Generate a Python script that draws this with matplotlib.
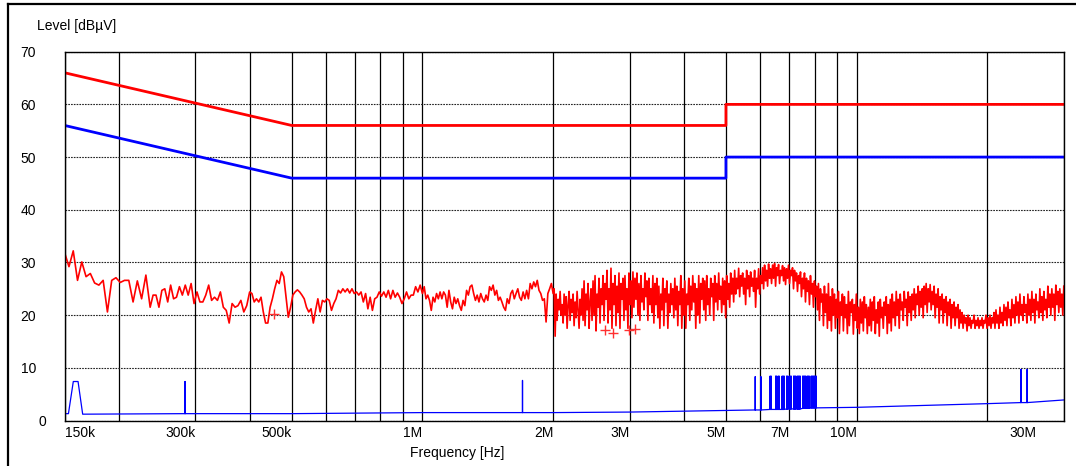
import numpy as np
import matplotlib.pyplot as plt
from matplotlib.lines import Line2D
from matplotlib.transforms import ScaledTranslation

plt.rcParams['font.family'] = ['Liberation Sans', 'DejaVu Sans']
plt.rcParams['font.size'] = 10

# limit lines (MHz, dBuV)
qp_limit_freq = [0.15, 0.5, 5.0, 5.0, 30.0]
qp_limit_level = [66, 56, 56, 60, 60]
av_limit_freq = [0.15, 0.5, 5.0, 5.0, 30.0]
av_limit_level = [56, 46, 46, 50, 50]

# peak trace, split into sweep segments (start MHz, stop MHz)
peak_bands = [(0.15, 0.236), (0.236, 0.40), (0.40, 1.0), (1.0, 2.0), (2.0, 30.0)]
peak_seg1 = [31.8, 29.2, 32.2, 26.6, 30.1, 27.3, 27.9, 26.1, 25.7, 26.6, 20.6,
             26.6, 27.1, 26.2, 26.6, 26.6, 22.5, 26.5, 23.1, 27.6, 21.5]
peak_seg2 = [23.8, 23.8, 21.5, 24.7, 25.0, 22.5, 25.7, 23.1, 23.4, 25.4, 23.8,
             25.7, 23.8, 26.0, 22.2, 24.4, 22.5, 22.5, 23.8, 25.7, 22.8, 23.4,
             22.8, 24.4, 21.5, 20.9, 18.5, 22.2, 21.5, 21.8, 22.8, 20.6, 21.8, 24.4]
peak_seg3 = [24.1, 22.5, 23.1, 22.5, 23.4, 20.6, 18.5, 18.5, 21.5, 23.1, 25.0,
             26.6, 26.0, 28.2, 27.3, 23.4, 19.6, 21.5, 23.8, 24.4, 24.8, 24.4,
             23.8, 23.1, 21.5, 20.6, 21.2, 18.5, 20.9, 23.1, 20.6, 22.8, 22.5,
             23.1, 22.8, 20.9, 22.2, 23.1, 24.7, 24.2, 25.0, 24.4, 25.0, 24.2,
             25.0, 24.1, 24.4, 23.8, 24.4, 22.5, 24.1, 21.2, 23.4, 20.9, 23.1,
             23.4, 24.4, 23.6, 24.4, 23.4, 24.7, 23.1, 24.7, 23.4, 24.2, 23.4,
             22.2, 23.1, 24.4, 23.1, 23.8, 23.8, 25.4, 24.4, 25.7, 24.1]
peak_seg4 = [25.4, 23.1, 23.8, 22.8, 20.9, 23.4, 22.5, 24.1, 23.1, 24.4, 23.1,
             24.4, 23.8, 21.5, 24.7, 22.5, 21.2, 23.4, 22.2, 23.1, 21.8, 20.9,
             22.8, 21.8, 24.7, 23.8, 25.4, 25.7, 24.1, 22.8, 23.8, 22.5, 24.1,
             23.1, 22.5, 23.8, 22.8, 25.4, 24.7, 25.7, 23.8, 24.7, 22.8, 23.4,
             22.5, 21.5, 20.9, 23.1, 22.2, 24.1, 24.7, 23.1, 24.1, 25.0, 23.4,
             22.8, 24.4, 23.1, 24.7, 23.1, 26.0, 25.0, 26.3, 25.4, 26.6, 24.7,
             24.1, 22.8, 23.1, 18.7, 24.1, 25.0, 26.0, 24.1]
peak_seg5 = [
    25, 16, 24, 19, 23, 21, 24.5, 20, 22, 18.5,
    24, 20, 23.5, 17.5, 22, 24.5, 19, 23, 20.5, 24,
    18, 22.5, 19.5, 24.5, 21, 17.5, 23, 20, 25, 19,
    26.5, 18, 24, 21, 26, 17.5, 22.5, 25, 19, 26.5,
    20, 27.5, 17, 24, 21.5, 27, 18.5, 25, 22, 27.5,
    19, 26, 23, 28.5, 18.5, 25, 21, 28.9, 17.5, 26,
    22, 27.5, 18, 25.5, 20.5, 28, 17.5, 26, 23, 27,
    19, 27.5, 21, 25, 17.5, 28, 22, 26.5, 19.5, 28.2,
    21.5, 27, 23, 28, 20, 26, 19, 27.5, 22.5, 25,
    21, 28, 23.5, 26.5, 19, 27, 22, 25, 20.5, 27.5,
    18.5, 26, 22, 27, 19.5, 25.5, 17.5, 24, 21, 27,
    18, 25, 22.5, 26.5, 17.5, 24, 20.5, 26, 22, 25,
    19.5, 27, 21, 25.5, 18, 24.5, 22, 27.5, 17.5, 25,
    20, 26.5, 17.5, 24, 22, 27, 19, 25.5, 21, 27.5,
    22.5, 26, 17.5, 25, 20, 27.5, 18.5, 26, 23, 27,
    21, 26.5, 19, 27.5, 22, 25, 20, 27, 23.5, 26,
    19, 27.5, 22.5, 26, 21, 28, 23, 25.5, 20.5, 27,
    22, 26.5, 19.5, 27.5, 23, 26, 21.5, 28, 24, 27,
    22.5, 28.5, 24, 27, 25, 28.9, 23.5, 27.5, 25.5, 28,
    24, 27, 22, 28.5, 25, 27.5, 23.5, 28.2, 25.5, 27,
    24.5, 28.5, 21.5, 27, 25, 28.8, 24, 27.5, 26, 29,
    25, 29.5, 26.5, 28.5, 25.5, 29.7, 27, 28.8, 26, 29.5,
    27, 29.8, 25.5, 29, 27.5, 29.6, 26, 28.5, 27.5, 29.4,
    26.5, 29, 25.8, 28.8, 27, 29.5, 26, 28.5, 27.5, 29,
    25, 28.5, 26.5, 28, 24.5, 27.5, 26, 28.2, 23.5, 27,
    25, 28, 22.5, 27, 24.5, 26.5, 22, 27.5, 24, 26,
    21.5, 26.5, 23.5, 25.5, 21, 26, 19, 25, 22.5, 24,
    18, 25.5, 20.5, 24, 17.5, 26, 19, 23.5, 17, 25,
    20, 24, 17.5, 23, 19.5, 24.5, 16.5, 22.5, 20, 24,
    17, 23.5, 19.5, 22, 16.5, 24.5, 18, 22.5, 20.5, 23,
    16.4, 22, 19, 24, 17.5, 21.5, 16.5, 23, 18.5, 22.5,
    17, 23.5, 19.5, 22, 16.5, 21.5, 18, 23, 17, 22.5,
    19, 23.5, 16.5, 21, 18.5, 22.5, 16, 23, 19.5, 21.5,
    17.5, 22.5, 20, 23.5, 16.5, 22, 18.5, 23, 17, 24,
    19.5, 22.5, 18, 24.5, 20, 23, 17.5, 24, 21, 22.5,
    19, 24.5, 21.5, 23, 18, 24.4, 20.5, 23.5, 19, 24,
    21, 25, 19.5, 24, 22, 25.5, 20, 24.5, 21.5, 25,
    19.5, 25.5, 22, 26, 20.5, 25, 22.5, 25.8, 21, 24.5,
    22, 25.5, 19.5, 24, 21.5, 25, 18.5, 23.5, 21, 24,
    18.5, 23, 20.5, 23.5, 18, 22.5, 20, 23, 17.5, 22,
    19.5, 22.5, 18, 21.5, 19.5, 22, 17.5, 21, 18.5, 20.5,
    17.5, 20, 18.5, 19.5, 17, 20, 18, 19.5, 17.5, 19,
    18.5, 20, 17.5, 19, 18, 19.5, 17.5, 19, 18, 19.5,
    17.5, 19, 18.5, 20, 17.5, 19.5, 18, 20, 17.5, 19.5,
    18.5, 20.5, 17.5, 21, 18.5, 20, 17.5, 21.5, 18.5, 20.5,
    18, 22, 19, 21.5, 18, 22.5, 19.5, 21, 18, 23,
    19.5, 22, 18.5, 23.5, 20, 22.5, 18.5, 24, 20, 22,
    19, 23.5, 20.5, 22, 18.5, 24, 20, 23, 19, 24.5,
    20.5, 23, 18.5, 24, 21, 22.5, 19.5, 25, 20.5, 23.5,
    19, 24.5, 21, 23, 19.5, 25.5, 21.5, 24, 20, 25,
    21.5, 24, 19, 25.7, 22, 24.5, 20.5, 25, 21.5, 24,
    20, 25.5,
]

# quasi-peak readings
qp_freq = [0.455, 2.64, 2.75, 2.99, 3.08]
qp_level = [20.2, 17.1, 16.6, 17.1, 17.4]

# average trace: floor points and single-sample spikes
av_floor_freq = [0.15, 0.153, 0.157, 0.161, 0.165, 0.5, 1.0, 2.0, 3.0, 5.0,
                 8.1, 10.0, 15.0, 20.0, 30.0]
av_floor_level = [1.3, 1.3, 7.4, 7.4, 1.2, 1.3, 1.5, 1.5, 1.6, 1.9,
                  2.4, 2.5, 2.9, 3.2, 3.9]
av_spike_freq = [0.284, 1.70, 5.84, 6.02,
                 6.320, 6.354, 6.508, 6.542, 6.595, 6.630, 6.736, 6.772, 6.808,
                 6.899, 6.936, 6.991, 7.028, 7.066, 7.160, 7.198, 7.237, 7.295,
                 7.334, 7.373, 7.412, 7.511, 7.551, 7.591, 7.632, 7.693, 7.734,
                 7.775, 7.858, 7.900, 7.942, 7.984, 8.026, 8.069,
                 23.9, 24.7]
av_spike_peak = [7.4, 7.6, 8.3, 8.3,
                 8.4, 8.4, 8.4, 8.4, 8.4, 8.4, 8.4, 8.4, 8.4,
                 8.4, 8.4, 8.4, 8.4, 8.4, 8.4, 8.4, 8.4, 8.4,
                 8.4, 8.4, 8.4, 8.4, 8.4, 8.4, 8.4, 8.4, 8.4,
                 8.4, 8.4, 8.4, 8.4, 8.4, 8.4, 8.4,
                 9.7, 9.7]
av_spike_base = [1.3, 1.5, 2.0, 2.0,
                 2.1, 2.1, 2.1, 2.1, 2.1, 2.1, 2.1, 2.1, 2.1,
                 2.2, 2.2, 2.2, 2.2, 2.2, 2.2, 2.2, 2.2, 2.2,
                 2.2, 2.2, 2.2, 2.3, 2.3, 2.3, 2.3, 2.3, 2.3,
                 2.3, 2.4, 2.4, 2.4, 2.4, 2.4, 2.4,
                 3.4, 3.4]

grid_freq = [0.2, 0.3, 0.4, 0.5, 0.6, 0.7, 0.8, 0.9, 1, 2, 3, 4, 5, 6, 7, 8, 9, 10, 20]
tick_freq = [0.15, 0.3, 0.5, 1, 2, 3, 5, 7, 10, 30]
tick_text = ['150k', '300k', '500k', '1M', '2M', '3M', '5M', '7M', '10M', '30M']


# build the peak sweep: log-spaced steps inside each band
peak_segs = [peak_seg1, peak_seg2, peak_seg3, peak_seg4, peak_seg5]
peak_f = []
peak_l = []
for i, (band, seg) in enumerate(zip(peak_bands, peak_segs)):
    if i == 0:
        f = np.geomspace(band[0], band[1], len(seg))
    else:
        f = np.geomspace(band[0], band[1], len(seg) + 1)[1:]
    peak_f.extend(f)
    peak_l.extend(seg)

# build the average trace; each spike is one vertical stroke up and down
av_pts = list(zip(av_floor_freq, av_floor_level, [0] * len(av_floor_freq)))
for f, pk, b in zip(av_spike_freq, av_spike_peak, av_spike_base):
    av_pts += [(f, b, 1), (f, pk, 2), (f, b, 3)]
av_pts.sort(key=lambda p: (p[0], p[2]))
av_f = [p[0] for p in av_pts]
av_l = [p[1] for p in av_pts]

W, H = 1076, 466
fig = plt.figure(figsize=(W / 100, H / 100), dpi=100)
ax = fig.add_axes([64.7 / W, 1 - 420.5 / H, (1063.8 - 64.7) / W, (420.5 - 51.7) / H])
ax.set_xscale('log')
ax.set_xlim(0.15, 30)
ax.set_ylim(0, 70)

ax.set_xticks(grid_freq, minor=True)
ax.set_xticks(tick_freq, tick_text)
ax.set_yticks(range(0, 80, 10))
ax.tick_params(which='both', length=0)
ax.tick_params(axis='x', pad=4)
ax.tick_params(axis='y', pad=20.5)
ax.xaxis.set_minor_formatter(plt.NullFormatter())

ax.set_axisbelow(True)
ax.grid(which='both', axis='x', color='black', lw=0.9)
ax.grid(which='major', axis='y', color='#222222', lw=0.8, linestyle=(0, (1.5, 1)))
for s in ax.spines.values():
    s.set_color('black')
    s.set_linewidth(1.0)

ax.plot(peak_f, peak_l, color='red', lw=1.2)
ax.plot(av_f, av_l, color='blue', lw=0.9)
ax.plot(qp_limit_freq, qp_limit_level, color='red', lw=2.0)
ax.plot(av_limit_freq, av_limit_level, color='blue', lw=2.0)
ax.plot(qp_freq, qp_level, '+', color='#ff3030', ms=7, mew=1.0)

# label placement on the axes
for i, lab in enumerate(ax.get_xticklabels()):
    lab.set_ha('left' if i == 0 else 'right')
    if tick_text[i] == '30M':
        lab.set_transform(lab.get_transform() + ScaledTranslation(-0.27, 0, fig.dpi_scale_trans))
for lab in ax.get_yticklabels():
    lab.set_ha('right')
    if lab.get_text() == '0':
        lab.set_transform(lab.get_transform() + ScaledTranslation(0.105, 0, fig.dpi_scale_trans))

fig.text(37 / W, 1 - 25.7 / H, 'Level [dBµV]', ha='left', va='center')
fig.text(457 / W, 1 - 453.5 / H, 'Frequency [Hz]', ha='center', va='center')

# outer frame
fig.add_artist(Line2D([8.3 / W, 1075 / W], [1 - 4.2 / H, 1 - 4.2 / H],
                      transform=fig.transFigure, color='black', lw=1.6))
fig.add_artist(Line2D([8.3 / W, 8.3 / W], [0, 1 - 4.2 / H],
                      transform=fig.transFigure, color='black', lw=1.6))

fig.savefig('out.png', dpi=100)
